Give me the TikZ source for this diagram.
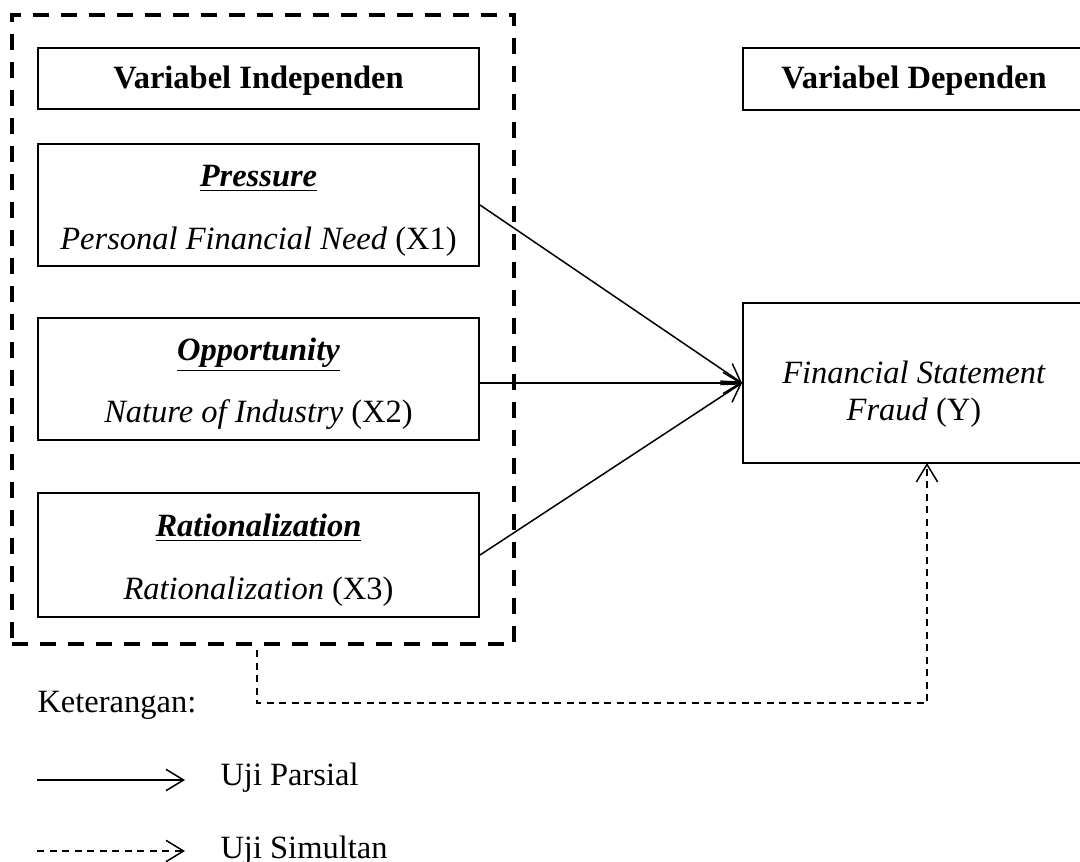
\documentclass[tikz,border=0pt]{standalone}
\usepackage{fontspec}
\setmainfont{Liberation Serif}
\usetikzlibrary{arrows.meta}

\tikzset{
  varbox/.style={draw,line width=0.8pt,inner sep=0pt,align=center,minimum width=176.4pt},
  parsial/.style={-{Straight Barb[length=7pt,width=8.5pt]},line width=0.6pt},
  simultan/.style={parsial,dash pattern=on 2.8pt off 2.2pt}
}
\newcommand{\lowr}[1]{\rule{0pt}{#1}}

\begin{document}
\begin{tikzpicture}[x=0.4pt,y=-0.4pt,font=\fontsize{13}{15}\selectfont]
\clip (0,0) rectangle (1080,861);
\node[draw,line width=1.4pt,dash pattern=on 6.4pt off 4.8pt,minimum width=200.8pt,minimum height=251.6pt] (indep) at (263,329.5) {};
\node[varbox,minimum height=24.4pt] (vi) at (258.5,78.5) {\lowr{10.5pt}\textbf{Variabel Independen}};
\node[varbox,minimum height=48.8pt] (x1) at (258.5,205) {\lowr{13pt}\underline{\textbf{\textit{Pressure}}}\\[10pt]\textit{Personal Financial Need} (X1)};
\node[varbox,minimum height=48.8pt] (x2) at (258.5,378.5) {\lowr{13pt}\underline{\textbf{\textit{Opportunity}}}\\[10pt]\textit{Nature of Industry} (X2)};
\node[varbox,minimum height=49.6pt] (x3) at (258.5,555) {\lowr{13pt}\underline{\textbf{\textit{Rationalization}}}\\[10pt]\textit{Rationalization} (X3)};
\node[varbox,minimum width=136.8pt,minimum height=24.8pt] (vd) at (914,79) {\lowr{10.5pt}\textbf{Variabel Dependen}};
\node[varbox,minimum width=136.8pt,minimum height=64pt] (y) at (914,383) {\lowr{18pt}\textit{Financial Statement}\\\textit{Fraud} (Y)};
% uji parsial
\draw[parsial] (x1.east) -- (y.west);
\draw[parsial] (x2.east |- y.west) -- (y.west);
\draw[parsial] (x3.east) -- (y.west);
% uji simultan
\coordinate (s) at (257,650); \coordinate (t) at (927,463);
\draw[simultan] (s) -- ++(0,53) -| (t);
% keterangan
\node[anchor=base west,inner sep=0pt] (ket) at (37,712) {Keterangan:};
\coordinate (p1) at (37,780); \coordinate (p2) at (185,780);
\coordinate (q1) at (37,851); \coordinate (q2) at (185,851);
\draw[parsial] (p1) -- (p2);
\draw[simultan] (q1) -- (q2);
\node[anchor=base west,inner sep=0pt] (lp) at (220,785) {Uji Parsial};
\node[anchor=base west,inner sep=0pt] (ls) at (220,858) {Uji Simultan};
\end{tikzpicture}
\end{document}
